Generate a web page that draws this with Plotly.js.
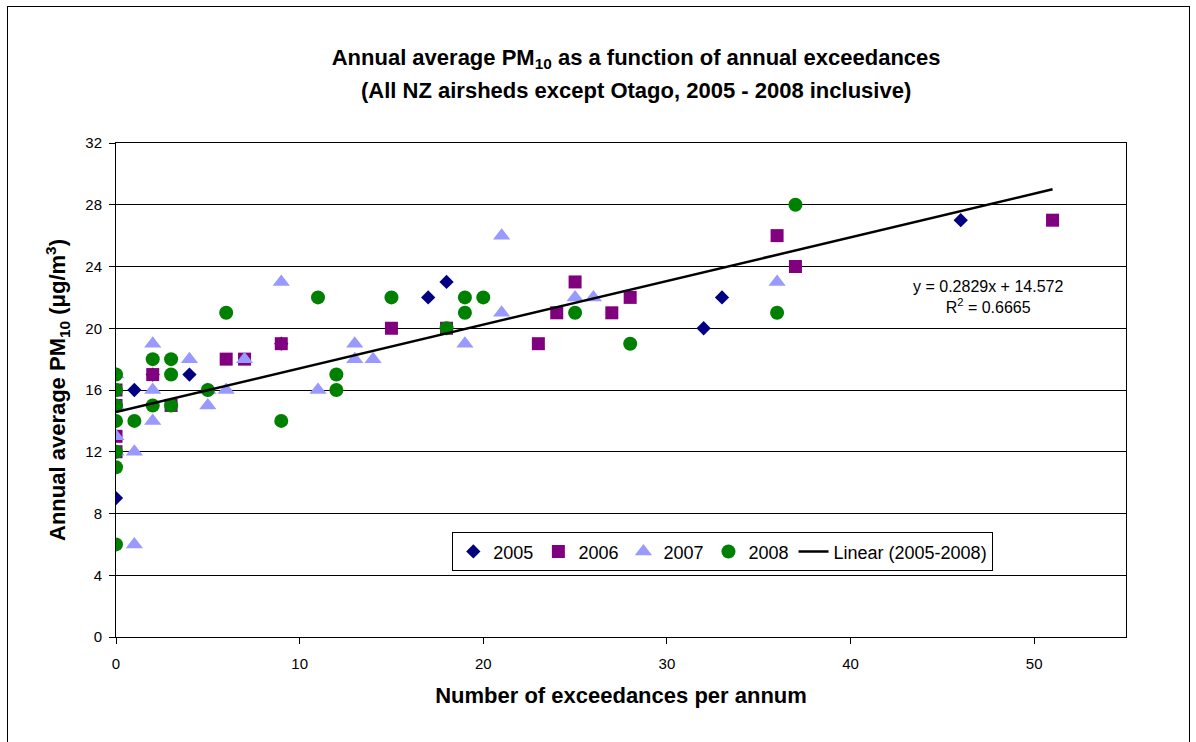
<!DOCTYPE html>
<html>
<head>
<meta charset="utf-8">
<script src="https://cdn.plot.ly/plotly-3.0.1.min.js"></script>
<style>
  html, body { margin: 0; padding: 0; background: #fff; }
  #chart { width: 1196px; height: 742px; position: absolute; left: 0; top: 0; }
  #frame { position: absolute; left: 7px; top: 6px; width: 1181px; height: 740px; border: 1px solid #000; pointer-events: none; }
</style>
</head>
<body>
<div id="chart"></div>
<div id="frame"></div>
<script>
// 2005 series
const x2005 = [0, 0, 0, 0, 1, 2, 4, 5, 9, 17, 18, 32, 33, 46];
const y2005 = [16, 14, 12, 9, 16, 17, 17, 16, 19, 22, 23, 20, 22, 27];
// 2006 series
const x2006 = [0, 0, 0, 0, 2, 3, 6, 7, 9, 15, 18, 23, 24, 25, 27, 28, 36, 37, 51];
const y2006 = [16, 15, 13, 12, 17, 15, 18, 18, 19, 20, 20, 19, 21, 23, 21, 22, 26, 24, 27];
// 2007 series
const x2007 = [0, 0, 0, 0, 1, 1, 2, 2, 2, 4, 5, 5, 6, 7, 9, 11, 13, 13, 14, 19, 21, 21, 25, 26, 36];
const y2007 = [17, 15, 13, 12, 12, 6, 19, 16, 14, 18, 15, 16, 16, 18, 23, 16, 19, 18, 18, 19, 26, 21, 22, 22, 23];
// 2008 series
const x2008 = [0, 0, 0, 0, 0, 0, 0, 1, 2, 2, 3, 3, 3, 5, 6, 9, 11, 12, 12, 15, 18, 19, 19, 20, 25, 28, 36, 37];
const y2008 = [17, 16, 15, 14, 12, 11, 6, 14, 18, 15, 18, 17, 15, 16, 21, 14, 22, 17, 16, 22, 20, 22, 21, 22, 21, 19, 21, 28];
// Linear trendline (2005-2008) as reported on the chart
const trendSlope = 0.2829;
const trendIntercept = 14.572;
const trendX = [0, 51];
const trendY = trendX.map(v => trendSlope * v + trendIntercept);
const trendLabel = 'y = 0.2829x + 14.572<br>R<sup>2</sup> = 0.6665';

const titleLine1 = '<b>Annual average PM<sub>10</sub> as a function of annual exceedances</b>';
const titleLine2 = '<b>(All NZ airsheds except Otago, 2005 - 2008 inclusive)</b>';

const xTicks = [0, 10, 20, 30, 40, 50];
const yTicks = [0, 4, 8, 12, 16, 20, 24, 28, 32];

const traces = [
  { x: x2005, y: y2005, name: '2005', type: 'scatter', mode: 'markers',
    marker: { symbol: 'diamond', size: 11, color: '#000080' } },
  { x: x2006, y: y2006, name: '2006', type: 'scatter', mode: 'markers',
    marker: { symbol: 'square', size: 13, color: '#800080' } },
  { x: x2007, y: y2007, name: '2007', type: 'scatter', mode: 'markers',
    marker: { symbol: 'triangle-up', size: 15, color: '#9999FF' } },
  { x: x2008, y: y2008, name: '2008', type: 'scatter', mode: 'markers',
    marker: { symbol: 'circle', size: 14, color: '#008000' } },
  { x: trendX, y: trendY, name: 'Linear (2005-2008)', type: 'scatter', mode: 'lines',
    line: { color: '#000000', width: 2.5 } }
];

const layout = {
  width: 1196, height: 742,
  margin: { l: 116, r: 70, t: 143, b: 105 },
  paper_bgcolor: '#ffffff', plot_bgcolor: '#ffffff',
  font: { family: 'Liberation Sans, Arial, sans-serif', color: '#000' },
  title: {
    text: titleLine1,
    font: { size: 22, family: 'Liberation Sans, Arial, sans-serif', color: '#000' },
    xref: 'paper', x: 0.515, xanchor: 'center',
    yref: 'container', y: 1 - 57 / 742, yanchor: 'middle'
  },
  xaxis: {
    range: [0, 55], tickvals: xTicks, ticktext: xTicks.map(String),
    showgrid: false, zeroline: false,
    showline: true, linecolor: '#000', linewidth: 1, mirror: true,
    ticks: 'outside', ticklen: 6, tickcolor: '#000', ticklabelstandoff: 7,
    tickfont: { size: 15 },
    title: { text: '<b>Number of exceedances per annum</b>', font: { size: 22 }, standoff: 16 }
  },
  yaxis: {
    range: [0, 32], tickvals: yTicks, ticktext: yTicks.map(String),
    showgrid: true, gridcolor: '#000', gridwidth: 1, zeroline: false,
    showline: true, linecolor: '#000', linewidth: 1, mirror: true,
    ticks: 'outside', ticklen: 6, tickcolor: '#000', ticklabelstandoff: 4,
    tickfont: { size: 15 },
    title: { text: '<b>Annual average PM<sub>10</sub> (μg/m<sup>3</sup>)</b>', font: { size: 22 }, standoff: 13 }
  },
  legend: {
    orientation: 'h', x: 0.333, y: 0.212, xanchor: 'left', yanchor: 'top',
    bgcolor: '#ffffff', bordercolor: '#000', borderwidth: 1,
    font: { size: 18 }, itemwidth: 30, tracegroupgap: 0
  },
  annotations: [
    {
      xref: 'paper', x: 0.515, xanchor: 'center',
      yref: 'paper', y: (637 - 91) / 494, yanchor: 'middle',
      text: titleLine2, showarrow: false,
      font: { size: 22, color: '#000' }
    },
    {
      x: 47.5, y: 22.0, xref: 'x', yref: 'y', text: trendLabel, showarrow: false,
      font: { size: 16 }, align: 'center'
    }
  ]
};

Plotly.newPlot('chart', traces, layout, { displayModeBar: false, staticPlot: true });
</script>
</body>
</html>
